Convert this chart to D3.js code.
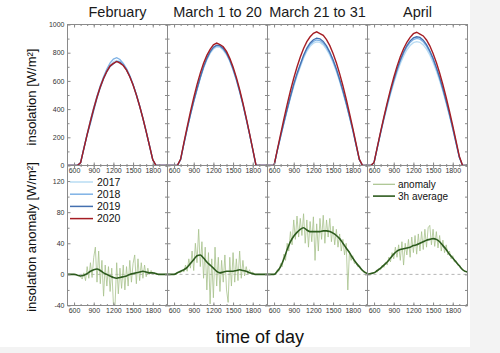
<!DOCTYPE html>
<html><head><meta charset="utf-8">
<script src="https://cdn.jsdelivr.net/npm/d3@7"></script>
<style>
html,body{margin:0;padding:0;background:#f3f3f3;}
svg{display:block;}
text{font-family:"Liberation Sans",Arial,sans-serif;}
</style></head><body>
<svg id="c" width="500" height="353"></svg>
<script>
// ---------- data ----------
const panels = ["February", "March 1 to 20", "March 21 to 31", "April"];
const years = ["2017", "2018", "2019", "2020"];
const xTickHours = [6, 9, 12, 15, 18];
const topTicks = [0, 200, 400, 600, 800, 1000];
const bottomTicks = [-40, 0, 40, 80, 120];

const hours = [5,5.5,6,6.5,7,7.5,8,8.5,9,9.5,10,10.5,11,11.5,12,12.5,13,13.5,14,14.5,15,15.5,16,16.5,17,17.5,18,18.5,19,19.5,20.25];
const quarterHours = [5,5.25,5.5,5.75,6,6.25,6.5,6.75,7,7.25,7.5,7.75,8,8.25,8.5,8.75,9,9.25,9.5,9.75,10,10.25,10.5,10.75,11,11.25,11.5,11.75,12,12.25,12.5,12.75,13,13.25,13.5,13.75,14,14.25,14.5,14.75,15,15.25,15.5,15.75,16,16.25,16.5,16.75,17,17.25,17.5,17.75,18,18.25,18.5,18.75,19,19.25,19.5,19.75,20.25];

// insolation [W/m2], half-hourly
const feb2017 = [0,0,0,0,21,123,223,318,408,490,563,625,676,712,735,745,738,716,682,634,574,503,424,336,241,142,41,0,0,0,0];
const feb2018 = [0,0,0,0,21,124,224,320,410,492,566,630,685,728,755,765,752,725,688,638,577,505,425,337,242,143,42,0,0,0,0];
const feb2019 = [0,0,0,0,20,120,218,300,392,478,552,615,665,702,722,738,733,712,678,631,572,500,420,333,238,140,40,0,0,0,0];
const feb2020 = [0,0,0,0,20,122,221,316,405,486,558,619,668,707,724,738,726,709,676,630,571,501,422,335,240,142,41,0,0,0,0];

const mar1_2017 = [0,0,0,0,42,152,257,358,450,535,616,689,749,795,826,840,838,817,785,737,676,604,520,428,328,222,112,0,0,0,0];
const mar1_2018 = [0,0,0,0,42,154,260,361,455,541,623,696,756,803,834,849,846,825,793,745,683,610,525,432,331,225,113,0,0,0,0];
const mar1_2019 = [0,0,0,0,43,154,261,363,457,544,626,700,760,807,839,853,850,830,797,748,686,613,528,435,333,226,114,0,0,0,0];
const mar1_2020 = [0,0,0,0,46,162,274,382,482,574,655,725,781,824,856,868,858,842,809,760,698,625,539,443,339,230,116,0,0,0,0];

const mar21_2017 = [0,0,0,105,202,297,389,478,560,634,698,760,810,845,867,877,873,855,824,782,729,667,595,516,432,342,247,145,41,0,0];
const mar21_2018 = [0,0,0,107,205,302,395,485,569,644,709,772,822,858,880,890,886,868,837,794,740,677,604,524,439,347,251,147,42,0,0];
const mar21_2019 = [0,0,0,108,208,306,400,491,577,653,718,782,833,869,892,903,899,880,848,804,750,686,612,531,445,351,254,149,43,0,0];
const mar21_2020 = [0,0,0,112,223,330,433,530,619,699,769,830,878,913,938,948,936,923,893,850,795,729,652,566,472,372,267,156,45,0,0];

const apr2017 = [0,0,20,124,226,324,416,503,582,656,721,775,819,851,871,878,874,855,825,784,731,670,601,524,439,350,256,157,57,0,0];
const apr2018 = [0,0,20,127,232,332,427,516,597,673,739,795,840,873,893,901,896,877,846,804,750,687,616,537,450,359,263,161,58,0,0];
const apr2019 = [0,0,20,129,235,336,433,523,605,682,749,805,851,884,905,913,908,889,857,814,760,696,624,544,456,364,266,163,59,0,0];
const apr2020 = [0,0,22,132,240,344,444,538,624,703,771,828,874,909,935,945,932,919,890,849,795,731,656,573,482,385,283,175,66,0,0];

// anomaly, quarter-hourly
const febNoise = [0,0,0,0,0,0,-1,-2,-3,-6,2,-8,10,-5,15,-4,22,35,-10,30,-12,18,-28,12,-15,10,-22,8,-38,-40,15,-25,8,-18,12,-20,10,-15,18,-10,14,25,-12,20,-8,15,-5,12,-3,8,0,5,1,2,0,0,0,0,0,0,0];
const mar1Noise = [0,0,0,0,0,0,1,3,2,6,3,12,4,20,8,30,5,40,15,58,10,42,-5,35,-20,28,-38,20,-30,35,-15,22,-22,18,-10,25,-20,-36,22,-15,28,-10,20,-8,30,-5,18,-2,10,0,6,1,3,0,0,0,0,0,0,0,0];
const mar21Noise = [0,0,0,0,0,2,6,4,14,10,26,18,40,30,55,38,70,45,75,48,72,50,78,40,70,35,68,42,74,18,65,30,72,45,76,40,70,48,72,42,62,38,58,35,52,30,45,25,40,-20,30,18,24,14,16,10,11,6,5,2,1];
const aprNoise = [0,0,1,2,2,4,3,8,6,12,9,16,12,22,16,28,20,35,22,38,18,42,12,40,25,45,22,48,28,50,26,52,30,55,32,58,35,60,63,38,58,36,55,34,50,30,44,28,38,25,30,20,24,16,18,12,12,8,7,4,3];

// 3h average anomaly, half-hourly
const febAvg = [0,0,0,-1,-2,-1,1,4,6,7,5,2,0,-2,-4,-5,-4,-3,-2,0,1,2,3,4,3,2,2,1,0,0,0];
const mar1Avg = [0,0,0,2,4,6,9,14,19,24,25,21,16,12,8,4,2,3,4,4,4,5,6,5,4,2,1,0,0,0,0];
const mar21Avg = [0,0,0,4,10,20,32,42,49,54,58,60,57,55,55,55,55,56,56,55,53,50,46,40,34,28,21,15,10,5,1];
const aprAvg = [0,1,2,5,8,12,16,21,26,30,32,33,34,35,37,38,40,42,44,45,46,45,42,37,32,26,21,16,11,6,3];

const insolation = [
  [feb2017, feb2018, feb2019, feb2020],
  [mar1_2017, mar1_2018, mar1_2019, mar1_2020],
  [mar21_2017, mar21_2018, mar21_2019, mar21_2020],
  [apr2017, apr2018, apr2019, apr2020]
];
const noise = [febNoise, mar1Noise, mar21Noise, aprNoise];
const avg = [febAvg, mar1Avg, mar21Avg, aprAvg];

// ---------- layout / style ----------
const yearColors = ["#b9dcf3", "#7fb2e5", "#4470b0", "#a51d24"];
const noiseColor = "#a7c28c", avgColor = "#2d5b1e";
const axisColor = "#8a8a8a", labelColor = "#333";
const left = 67.5, pw = 100, topY0 = 24.5, topY1 = 165.5, botY1 = 305.5;

const svg = d3.select("#c");
svg.append("rect").attr("width", 470).attr("height", 347).attr("fill", "#fff");

const yTop = d3.scaleLinear().domain([0, 1000]).range([topY1, topY0]);
const yBot = d3.scaleLinear().domain([-40, 140]).range([botY1, topY1]);

function styleAxis(g, showLabels) {
  g.select(".domain").remove();
  g.selectAll(".tick line").attr("stroke", axisColor);
  g.selectAll(".tick text").attr("fill", labelColor).style("font-size", "7px")
    .style("font-family", '"Liberation Sans",Arial,sans-serif');
  if (!showLabels) g.selectAll(".tick text").remove();
}
const plain = d => String(d);

panels.forEach((name, i) => {
  const x0 = left + i * pw;
  const x = d3.scaleLinear().domain([5, 20.25]).range([x0, x0 + pw]);
  const clipId = "clip" + i;
  const defs = svg.append("defs");
  defs.append("clipPath").attr("id", clipId + "t").append("rect")
    .attr("x", x0).attr("y", topY0 - 5).attr("width", pw).attr("height", topY1 - topY0 + 5);
  defs.append("clipPath").attr("id", clipId + "b").append("rect")
    .attr("x", x0).attr("y", topY1).attr("width", pw).attr("height", botY1 - topY1);

  // title
  svg.append("text").attr("x", x0 + pw / 2).attr("y", 17).attr("text-anchor", "middle")
    .style("font-size", "14.5px").attr("fill", "#1a1a1a").text(name);

  // bottom panel: zero line, noise, average
  const gb = svg.append("g").attr("clip-path", `url(#${clipId}b)`);
  gb.append("line").attr("x1", x0).attr("x2", x0 + pw).attr("y1", yBot(0)).attr("y2", yBot(0))
    .attr("stroke", "#b5b5b5").attr("stroke-width", 1).attr("stroke-dasharray", "3,3");
  const lineB = d3.line().x(d => x(d[0])).y(d => yBot(d[1]));
  gb.append("path").attr("d", lineB(quarterHours.map((h, k) => [h, noise[i][k]])))
    .attr("fill", "none").attr("stroke", noiseColor).attr("stroke-width", 0.8);
  gb.append("path").attr("d", lineB.curve(d3.curveMonotoneX)(hours.map((h, k) => [h, avg[i][k]])))
    .attr("fill", "none").attr("stroke", avgColor).attr("stroke-width", 1.6);

  // top panel: insolation by year
  const gt = svg.append("g").attr("clip-path", `url(#${clipId}t)`);
  const lineT = d3.line().x(d => x(d[0])).y(d => yTop(d[1]));
  insolation[i].forEach((vals, yi) => {
    gt.append("path").attr("d", lineT(hours.map((h, k) => [h, vals[k]])))
      .attr("fill", "none").attr("stroke", yearColors[yi]).attr("stroke-width", yi === 3 ? 1.4 : 1.3);
  });

  // x axes
  const minorX = [6,7,8,9,10,11,12,13,14,15,16,17,18,19,20];
  [[topY0, d3.axisTop, false], [topY1, d3.axisBottom, true], [topY1, d3.axisTop, false], [botY1, d3.axisBottom, true]]
    .forEach(([yy, ax, lab]) => {
      svg.append("g").attr("transform", `translate(0,${yy})`)
        .call(ax(x).tickValues(minorX).tickSize(-1.5).tickFormat(""))
        .call(g => styleAxis(g, false));
      svg.append("g").attr("transform", `translate(0,${yy})`)
        .call(ax(x).tickValues(xTickHours).tickSize(-3).tickPadding(3).tickFormat(d => String(d * 100)))
        .call(g => styleAxis(g, lab));
    });

  // y axes (inward ticks on both sides of every panel)
  const minorTop = [100,300,500,700,900];
  const minorBot = [-20,20,60,100];
  svg.append("g").attr("transform", `translate(${x0},0)`)
    .call(d3.axisLeft(yTop).tickValues(topTicks).tickSize(-3).tickPadding(3).tickFormat(plain)).call(g => styleAxis(g, i === 0));
  svg.append("g").attr("transform", `translate(${x0},0)`)
    .call(d3.axisLeft(yTop).tickValues(minorTop).tickSize(-2).tickFormat("")).call(g => styleAxis(g, false));
  svg.append("g").attr("transform", `translate(${x0},0)`)
    .call(d3.axisLeft(yBot).tickValues(bottomTicks).tickSize(-3).tickPadding(3).tickFormat(plain)).call(g => styleAxis(g, i === 0));
  svg.append("g").attr("transform", `translate(${x0},0)`)
    .call(d3.axisLeft(yBot).tickValues(minorBot).tickSize(-2).tickFormat("")).call(g => styleAxis(g, false));
  svg.append("g").attr("transform", `translate(${x0 + pw},0)`)
    .call(d3.axisRight(yTop).tickValues(topTicks.concat(minorTop)).tickSize(-2.5).tickFormat("")).call(g => styleAxis(g, false));
  svg.append("g").attr("transform", `translate(${x0 + pw},0)`)
    .call(d3.axisRight(yBot).tickValues(bottomTicks.concat(minorBot)).tickSize(-2.5).tickFormat("")).call(g => styleAxis(g, false));

  // frames
  svg.append("rect").attr("x", x0).attr("y", topY0).attr("width", pw).attr("height", topY1 - topY0)
    .attr("fill", "none").attr("stroke", axisColor).attr("stroke-width", 1);
  svg.append("rect").attr("x", x0).attr("y", topY1).attr("width", pw).attr("height", botY1 - topY1)
    .attr("fill", "none").attr("stroke", axisColor).attr("stroke-width", 1);
});

// legends
const lg = svg.append("g");
years.forEach((yv, k) => {
  const yy = 182 + k * 12.2;
  lg.append("line").attr("x1", 70).attr("x2", 93).attr("y1", yy).attr("y2", yy)
    .attr("stroke", yearColors[k]).attr("stroke-width", 1.5);
  lg.append("text").attr("x", 97).attr("y", yy + 3.6).style("font-size", "10.5px").attr("fill", "#111").text(yv);
});
const anomalyLegend = [["anomaly", noiseColor, 1.2], ["3h average", avgColor, 1.6]];
anomalyLegend.forEach(([t, c, w], k) => {
  const yy = 184.3 + k * 11.8;
  lg.append("line").attr("x1", 373).attr("x2", 395).attr("y1", yy).attr("y2", yy)
    .attr("stroke", c).attr("stroke-width", w);
  lg.append("text").attr("x", 398).attr("y", yy + 3.5).style("font-size", "10px").attr("fill", "#111").text(t);
});

// axis titles
svg.append("text").attr("transform", "translate(35.5,97) rotate(-90)").attr("text-anchor", "middle")
  .style("font-size", "13px").attr("fill", "#111").text("insolation [W/m²]");
svg.append("text").attr("transform", "translate(35.5,237) rotate(-90)").attr("text-anchor", "middle")
  .style("font-size", "13px").attr("fill", "#111").text("insolation anomaly [W/m²]");
svg.append("text").attr("x", 260).attr("y", 342.5).attr("text-anchor", "middle")
  .style("font-size", "18px").attr("fill", "#111").text("time of day");
</script>
</body></html>
